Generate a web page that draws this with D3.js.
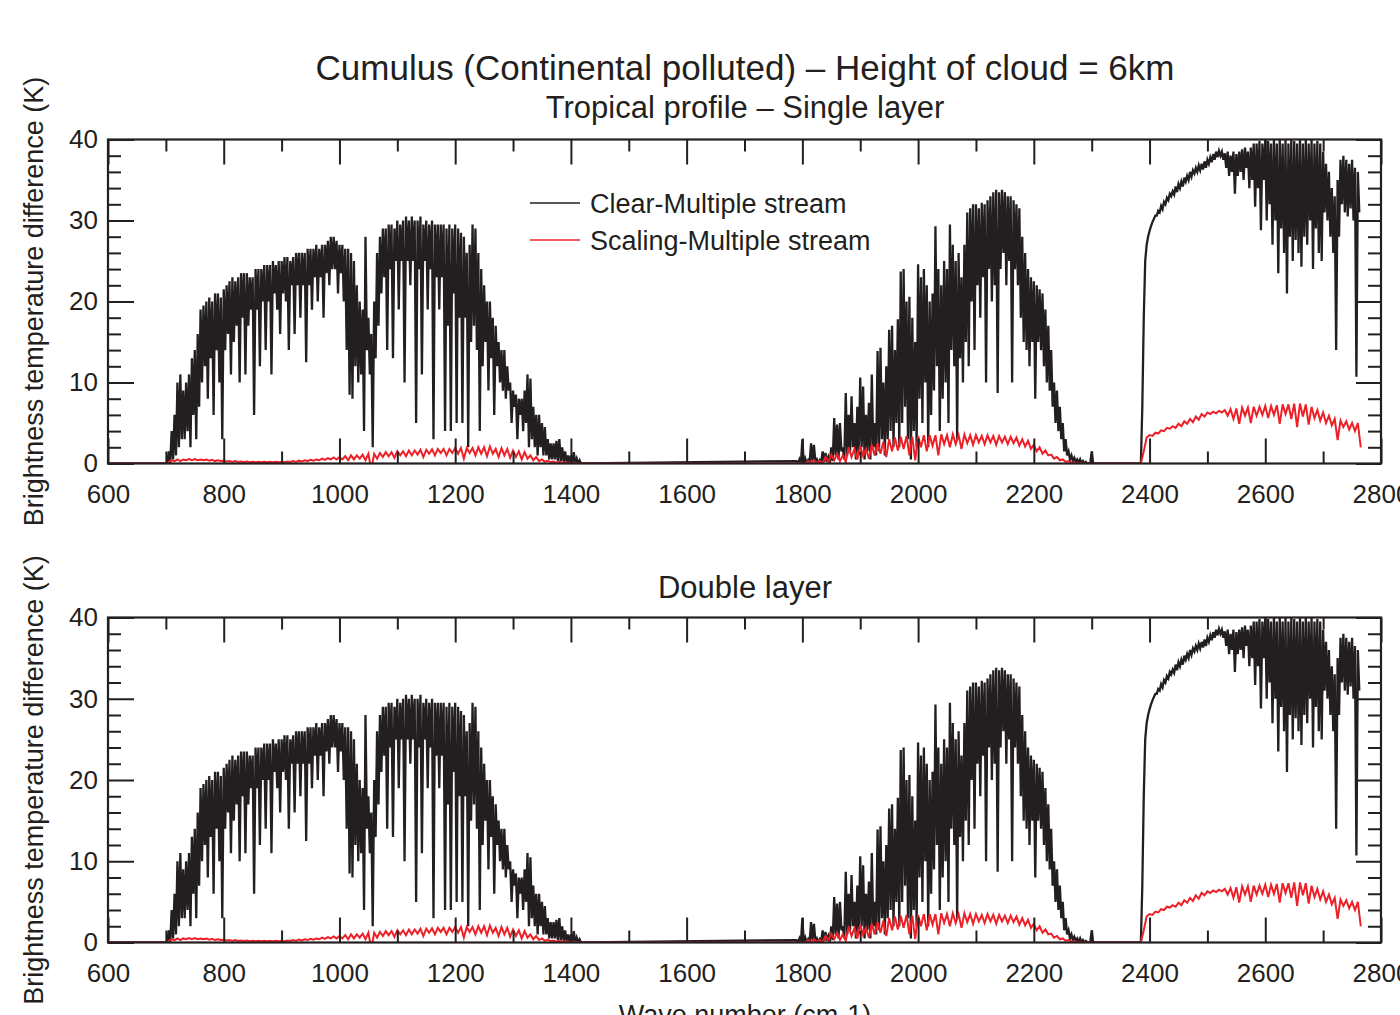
<!DOCTYPE html>
<html>
<head>
<meta charset="utf-8">
<script src="https://cdn.jsdelivr.net/npm/d3@7"></script>
<style>
  body { margin: 0; background: #fff; }
  text { font-family: "Liberation Sans", Arial, Helvetica, sans-serif; fill: #231f20; }
</style>
</head>
<body>
<svg id="chart" width="1400" height="1015"></svg>
<script>
// ---- data ----
// each window: [first wave number, last wave number, step]; every step has
// a local maximum (at wn) and a local minimum (half a step later)
var clearWindows = [[700, 1420, 5], [1790, 2300, 5], [2380, 2760, 5]];

var clearPeak1 = [0, 1.5, 4, 6, 10, 11, 9, 10, 11, 13,
  14, 16, 19, 19.5, 20, 20.5, 20, 21, 21, 20.5,
  21.5, 22, 22.5, 23, 22.5, 23, 23.5, 23.5, 23.5, 23,
  23, 24, 24, 24, 24.5, 24.5, 24.5, 25, 24.5, 25,
  25, 25.5, 25.5, 25, 25.5, 26, 26, 26, 26, 26.5,
  26.5, 26.5, 27, 26.5, 27, 27, 27.5, 28, 28, 27.5,
  27, 27, 26.5, 26.5, 26, 25, 22, 20, 19, 28,
  18, 16, 20, 26, 28, 29, 29, 29.5, 29.5, 29,
  30, 29.5, 30, 30.5, 30, 30.5, 30, 30, 30.5, 29.5,
  30, 29.5, 30, 29.5, 29.5, 29.5, 29.5, 29, 29.5, 29,
  29.5, 29, 28.5, 28, 26, 27, 29.5, 29, 26, 24,
  22, 20, 20, 18, 17, 15, 14, 14, 12, 10,
  9, 8.5, 8, 8, 9, 11, 10.5, 7, 6, 6,
  5, 4.5, 3, 2.5, 2.5, 2.8, 3, 2, 1.5, 1,
  1, 1.4, 0.6, 0.4, 0];
var clearDip1 = [0, 0, 0.5, 1, 2, 3, 3, 4, 2, 6,
  3, 7, 10, 12, 8, 13, 6, 14, 10, 3,
  14, 16, 11, 15, 17, 10, 18, 11, 17, 19,
  6, 19, 12, 20, 14, 20, 11, 21, 19, 16,
  21, 20, 14, 22, 16, 22, 18, 22, 12.5, 22,
  19, 23, 20, 23, 18, 23.5, 22, 24, 24, 21,
  23.5, 20, 14, 8.5, 8, 12, 10, 11, 4, 14,
  11, 2, 13, 17, 21, 23, 14, 24, 13, 25,
  19, 25, 10, 25, 22, 25, 5, 24, 11, 25,
  19, 24, 3, 23, 19, 23, 4, 17, 4, 21,
  5, 18, 5, 18, 2, 15, 17, 14, 4, 12,
  15, 9, 13, 6, 12, 10, 9, 8, 9, 5,
  7, 3, 6, 4, 5, 2, 3, 2, 1, 2,
  1, 1, 0.5, 0.5, 0.5, 0.3, 0.3, 0.2, 0.2, 0.1,
  0.1, 0, 0, 0, 0];

var clearPeak2 = [0.3, 0.5, 3, 0.6, 0.4, 2.5, 2.3, 0.5, 0.4, 1.5,
  1.3, 0.8, 2, 5.6, 4.8, 5, 2, 8.7, 6, 8.3,
  5, 7, 10.6, 9.5, 6, 7.5, 11, 5, 13.9, 14.3,
  10, 12, 16.5, 17, 14, 17.8, 23.7, 24, 20, 20.6,
  18, 15, 24.6, 23, 24, 22, 20, 21, 29.3, 24,
  22, 25, 24, 29.5, 27, 25, 26, 23, 27, 31,
  31.5, 32, 32, 31.5, 32.2, 32, 32.5, 33, 33.5, 33.8,
  33.5, 33.8, 33.5, 33, 33, 32.5, 32, 31.5, 28, 26,
  24, 23, 22.5, 22, 21.5, 21, 19, 17, 14, 10,
  9, 7, 5, 3, 1.5, 1, 0.7, 0.5, 0.5, 0.3,
  0.2, 0, 1.5];
var clearDip2 = [0, 0, 0, 0, 0, 0.3, 0.2, 0, 0, 0.2,
  0.2, 0.1, 0.3, 1, 0.5, 1.5, 0.5, 1, 1.5, 2,
  0.5, 1, 2, 0.5, 1.5, 0.5, 2, 1, 1.5, 3,
  1, 3, 4, 2, 5, 2, 5, 7, 3, 0.5,
  4, 2, 8, 5, 10, 2, 6, 9, 12, 4,
  8, 10, 5, 14, 12, 3, 13, 10, 15, 12,
  20, 14, 22, 18, 23, 10, 24, 20, 22, 8.7,
  24, 26, 22, 25, 10, 24, 22, 18, 15, 14,
  12, 15, 8, 15, 14, 12, 10, 9, 7, 5,
  4, 3, 1.5, 1, 0.5, 0.3, 0.2, 0.1, 0, 0,
  0, 0, 0];

var clearPeak3 = [0, 0, 18, 27,
  28.7, 29.8, 30.6, 31.2, 31.8, 32.3, 32.8, 33.3, 33.6, 34.2,
  34.5, 34.8, 35.3, 35.5, 36, 36.2, 36.5, 36.8, 37, 37.3,
  37.5, 37.8, 38.2, 38.5, 38.6, 38.5, 38.3, 38.5, 38, 38.5,
  38.2, 38.5, 38.8, 39, 38.5, 39, 39.5, 39.5, 39.8, 39.5,
  40, 39.8, 39.5, 40, 39.5, 40, 39.5, 40, 39.5, 40,
  39.8, 39.5, 40, 39.5, 40, 39.5, 40, 39.5, 39.8, 39.5,
  38.5, 37, 36, 34, 33, 35, 37.5, 38, 37.5, 37, 37.5, 36.5, 36];
var clearDip3 = [0, 7, 25, 28,
  29.3, 30.2, 30.6, 31, 31.4, 32, 32.5, 33, 33.2, 33.5,
  34, 34.2, 34.8, 35, 35.4, 35.8, 36, 36.2, 36.3, 36.5,
  37, 37.2, 37.5, 37.8, 38, 37.5, 36.5, 35.5, 36, 33.3,
  35.5, 36, 35, 36.5, 34, 35, 31.7, 34, 28.8, 35,
  30, 32, 27, 30, 23.5, 29, 26, 21, 28, 25,
  27.6, 26, 24.3, 28, 27, 30, 24, 29, 26, 25,
  31, 30, 28, 26, 14, 28, 32, 31, 30.5, 31.5, 30, 10.7, 31];

var scaleWindows = [[700, 1420, 10], [1790, 2300, 10], [2380, 2760, 10]];

var scalePeak1 = [0, 0.4, 0.5, 0.5, 0.55, 0.55, 0.5, 0.5, 0.45, 0.4,
  0.35, 0.3, 0.3, 0.25, 0.25, 0.2, 0.2, 0.2, 0.2, 0.2,
  0.2, 0.25, 0.3, 0.35, 0.4, 0.45, 0.5, 0.6, 0.65, 0.75,
  0.8, 0.9, 1.0, 1.0, 1.1, 1.2, 1.2, 1.3, 1.4, 1.4,
  1.5, 1.5, 1.6, 1.6, 1.7, 1.7, 1.75, 1.8, 1.8, 1.8,
  1.9, 1.9, 1.9, 1.9, 2.0, 2.0, 2.1, 1.8, 1.9, 1.8,
  1.6, 1.5, 1.4, 1.0, 0.8, 0.5, 0.35, 0.25, 0.2, 0.15,
  0.1, 0.05, 0];
var scaleDip1 = [0.2, 0.3, 0.3, 0.4, 0.4, 0.4, 0.4, 0.35, 0.3, 0.3,
  0.25, 0.2, 0.2, 0.2, 0.15, 0.15, 0.15, 0.15, 0.15, 0.15,
  0.15, 0.2, 0.2, 0.25, 0.3, 0.35, 0.4, 0.45, 0.5, 0.5,
  0.5, 0.4, 0.5, 0.6, 0.4, -0.8, 0.6, 0.8, 0.9, 0.7,
  1.0, 0.9, 1.0, 1.1, 0.8, 1.2, 1.0, 1.3, 1.0, 1.3,
  1.2, 0.6, 1.3, 1.0, 1.2, 0.9, 1.2, 0.8, 1.0, 0.7,
  0.8, 0.5, 0.6, 0.4, 0.3, 0.2, 0.15, 0.1, 0.1, 0.05,
  0.05, 0, 0];

var scalePeak2 = [0, 0.1, 0.3, 0.4, 0.3, 0.8, 1.1, 1.2, 1.0, 2.0,
  1.8, 2.2, 1.8, 2.3, 2.5, 2.7, 3.0, 3.2, 3.3, 3.4,
  3.3, 3.4, 3.5, 3.5, 3.5, 3.6, 3.5, 3.6, 3.5, 3.6,
  3.5, 3.5, 3.4, 3.5, 3.4, 3.4, 3.3, 3.3, 3.2, 3.0,
  2.8, 2.3, 2.0, 1.6, 1.1, 0.8, 0.5, 0.3, 0.15, 0.05,
  0, 0];
var scaleDip2 = [0, 0, 0, 0.1, 0, 0.2, 0.4, 0.3, 0.2, 0.8,
  0.5, 0.9, 0.6, 1.0, 1.2, 0.8, 1.5, 1.6, 1.8, 1.0,
  0.4, 2.0, 1.5, 2.2, 1.0, 2.4, 2.0, 2.4, 1.8, 2.5,
  2.3, 2.6, 2.4, 2.6, 2.3, 2.6, 2.4, 2.5, 2.2, 2.1,
  1.8, 1.5, 1.2, 1.0, 0.6, 0.4, 0.2, 0.1, 0, 0,
  0, 0];

var scalePeak3 = [0, 1.5, 3.5, 3.8, 4.1, 4.4, 4.6, 4.9, 5.2, 5.5,
  5.8, 6.1, 6.3, 6.4, 6.5, 6.6, 6.7, 6.8, 6.9, 6.9,
  7.0, 7.0, 7.1, 7.1, 7.2, 7.3, 7.3, 7.4, 7.4, 7.3,
  7.0, 6.6, 6.3, 5.9, 5.5, 5.3, 5.2, 5.0, 5.0];
var scaleDip3 = [0, 3.2, 3.4, 3.7, 4.0, 4.3, 4.4, 4.6, 4.9, 5.1,
  5.4, 5.8, 6.1, 6.2, 6.3, 5.9, 5.5, 4.9, 5.9, 5.0,
  5.9, 6.0, 5.6, 6.0, 4.9, 6.1, 5.5, 4.5, 5.8, 4.8,
  5.6, 5.3, 5.0, 4.7, 2.9, 4.5, 4.2, 4.0, 2.0];

var xTickMajor = [600, 800, 1000, 1200, 1400, 1600, 1800, 2000, 2200, 2400, 2600, 2800];
var xTickMinor = [700, 900, 1100, 1300, 1500, 1700, 1900, 2100, 2300, 2500, 2700];
var yTickMajor = [0, 10, 20, 30, 40];
var yTickMinor = [2, 4, 6, 8, 12, 14, 16, 18, 22, 24, 26, 28, 32, 34, 36, 38];

var legendLabels = ["Clear-Multiple stream", "Scaling-Multiple stream"];
var panelTitles = ["Tropical profile \u2013 Single layer", "Double layer"];
var mainTitle = "Cumulus (Continental polluted) \u2013 Height of cloud = 6km";

// ---- build the traces ----
function buildSeries(windows, peaks, dips) {
    var pts = [[600, 0]];
    windows.forEach(function(w, k) {
        for (var i = 0; i < peaks[k].length; i++) {
            var wn = w[0] + i * w[2];
            pts.push([wn, peaks[k][i]]);
            pts.push([wn + w[2] / 2, dips[k][i]]);
        }
    });
    return pts;
}
var clearSeries = buildSeries(clearWindows, [clearPeak1, clearPeak2, clearPeak3], [clearDip1, clearDip2, clearDip3]);
var scaleSeries = buildSeries(scaleWindows, [scalePeak1, scalePeak2, scalePeak3], [scaleDip1, scaleDip2, scaleDip3]);

var ink = "#231f20", red = "#ed2028";
var svg = d3.select("#chart");
var x = d3.scaleLinear().domain([600, 2800]).range([108, 1381]);

svg.append("text").attr("x", 745).attr("y", 80).attr("text-anchor", "middle")
    .style("font-size", "35px").text(mainTitle);

var panels = [{top: 139.5, bottom: 463.5, title: 118}, {top: 617.5, bottom: 942.5, title: 598}];

panels.forEach(function(p, idx) {
    var y = d3.scaleLinear().domain([0, 40]).range([p.bottom, p.top]);
    var g = svg.append("g");

    g.append("text").attr("x", 745).attr("y", p.title).attr("text-anchor", "middle")
        .style("font-size", "31px").text(panelTitles[idx]);

    var clipId = "clip" + idx;
    svg.append("clipPath").attr("id", clipId).append("rect")
        .attr("x", 108).attr("y", p.top).attr("width", 1381 - 108).attr("height", p.bottom - p.top);

    var line = d3.line().x(function(d) { return x(d[0]); }).y(function(d) { return y(d[1]); });
    var plot = g.append("g").attr("clip-path", "url(#" + clipId + ")");
    plot.append("path").attr("d", line(clearSeries)).attr("fill", "none")
        .attr("stroke", ink).attr("stroke-width", 2.3);
    plot.append("path").attr("d", line(scaleSeries)).attr("fill", "none")
        .attr("stroke", red).attr("stroke-width", 2);

    // axes: ticks point inward
    var axes = g.append("g");
    function addAxis(axis, tx, ty) {
        var a = axes.append("g").attr("transform", "translate(" + tx + "," + ty + ")").call(axis);
        a.select(".domain").remove();
        a.selectAll("line").attr("stroke", ink).attr("stroke-width", 2);
        a.selectAll("text").style("font-size", "26px").attr("fill", ink);
        return a;
    }
    var fmt = d3.format("d");
    addAxis(d3.axisBottom(x).tickValues(xTickMajor).tickSizeInner(-25).tickSizeOuter(0).tickPadding(21).tickFormat(fmt), 0, p.bottom);
    addAxis(d3.axisBottom(x).tickValues(xTickMinor).tickSizeInner(-12).tickSizeOuter(0).tickFormat(""), 0, p.bottom);
    addAxis(d3.axisTop(x).tickValues(xTickMajor).tickSizeInner(-25).tickSizeOuter(0).tickFormat(""), 0, p.top);
    addAxis(d3.axisTop(x).tickValues(xTickMinor).tickSizeInner(-12).tickSizeOuter(0).tickFormat(""), 0, p.top);
    addAxis(d3.axisLeft(y).tickValues(yTickMajor).tickSizeInner(-26).tickSizeOuter(0).tickPadding(10).tickFormat(fmt), 108, 0);
    addAxis(d3.axisLeft(y).tickValues(yTickMinor).tickSizeInner(-13).tickSizeOuter(0).tickFormat(""), 108, 0);
    addAxis(d3.axisRight(y).tickValues(yTickMajor).tickSizeInner(-25).tickSizeOuter(0).tickFormat(""), 1381, 0);
    addAxis(d3.axisRight(y).tickValues(yTickMinor).tickSizeInner(-13).tickSizeOuter(0).tickFormat(""), 1381, 0);

    g.append("rect").attr("x", 108).attr("y", p.top).attr("width", 1381 - 108).attr("height", p.bottom - p.top)
        .attr("fill", "none").attr("stroke", ink).attr("stroke-width", 2.2);

    g.append("text").attr("transform", "translate(43," + ((p.top + p.bottom) / 2) + ") rotate(-90)")
        .attr("text-anchor", "middle").style("font-size", "27px")
        .text("Brightness temperature difference (K)");

    if (idx == 0) {
        var leg = g.append("g");
        [ink, red].forEach(function(c, i) {
            var ly = 203 + i * 37;
            leg.append("line").attr("x1", 530).attr("x2", 580).attr("y1", ly).attr("y2", ly)
                .attr("stroke", c).attr("stroke-width", 1.6);
            leg.append("text").attr("x", 590).attr("y", ly + 10).style("font-size", "27px").text(legendLabels[i]);
        });
    }
});

svg.append("text").attr("x", 745).attr("y", 1024).attr("text-anchor", "middle")
    .style("font-size", "27px").text("Wave number (cm-1)");
</script>
</body>
</html>
